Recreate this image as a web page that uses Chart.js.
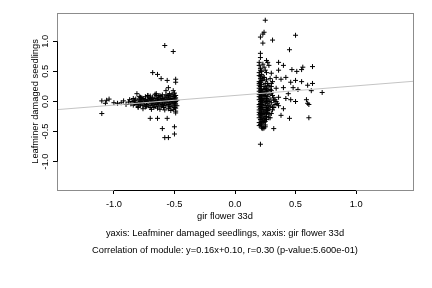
<!DOCTYPE html>
<html><head><meta charset="utf-8">
<script src="https://cdn.jsdelivr.net/npm/chart.js@4/dist/chart.umd.min.js"></script>
<style>html,body{margin:0;padding:0;background:#fff}</style>
</head><body>
<canvas id="c" width="432" height="288"></canvas>
<script>
const xTicks = [-1.0, -0.5, 0.0, 0.5, 1.0];
const yTicks = [-1.0, -0.5, 0.0, 0.5, 1.0];
const xLimits = [-1.47, 1.47];
const yLimits = [-1.47, 1.47];
const fitSlope = 0.16;
const fitIntercept = 0.10;
const xTitle = "gir flower 33d";
const yTitle = "Leafminer damaged seedlings";
const caption1 = "yaxis: Leafminer damaged seedlings, xaxis: gir flower 33d";
const caption2 = "Correlation of module: y=0.16x+0.10, r=0.30 (p-value:5.600e-01)";

// [gir flower 33d, leafminer damaged seedlings]
const observations = [
[-1.10,0.01],[-1.10,-0.20],[-1.06,0.02],[-1.04,0.04],[-1.07,-0.03],[-1.00,-0.02],[-0.97,-0.03],[-0.94,-0.02],[-0.92,0.01],[-0.90,-0.05],[-0.88,-0.01],[-0.87,0.03],
[-0.86,-0.04],[-0.85,0.00],[-0.84,-0.06],[-0.83,0.02],[-0.82,-0.02],[-0.81,0.13],[-0.81,-0.05],[-0.80,0.01],[-0.80,-0.08],[-0.79,0.04],[-0.79,-0.03],[-0.78,0.00],[-0.78,-0.06],[-0.77,0.03],[-0.77,-0.02],[-0.76,0.05],[-0.76,-0.07],[-0.75,0.01],[-0.75,-0.04],[-0.74,0.03],[-0.74,-0.09],[-0.73,0.00],[-0.73,-0.05],[-0.72,0.10],[-0.72,0.04],[-0.72,-0.02],[-0.71,0.02],[-0.71,-0.07],[-0.70,0.05],[-0.70,-0.01],[-0.70,-0.10],[-0.69,0.03],[-0.69,-0.04],[-0.68,0.07],[-0.68,0.00],[-0.68,-0.06],[-0.67,0.02],[-0.67,-0.03],[-0.66,0.05],[-0.66,-0.08],[-0.65,0.10],[-0.65,0.01],[-0.65,-0.05],[-0.64,0.04],[-0.64,-0.02],[-0.64,-0.11],[-0.63,0.06],[-0.63,0.00],[-0.63,-0.06],[-0.62,0.03],[-0.62,-0.03],[-0.61,0.08],[-0.61,0.01],[-0.61,-0.08],[-0.60,0.05],[-0.60,-0.01],[-0.60,-0.05],[-0.59,0.02],[-0.59,-0.10],[-0.58,0.07],[-0.58,0.00],[-0.58,-0.04],[-0.57,0.04],[-0.57,-0.07],[-0.56,0.09],[-0.56,0.02],[-0.56,-0.02],[-0.55,0.06],[-0.55,-0.05],[-0.55,-0.12],[-0.54,0.03],[-0.54,-0.01],[-0.53,0.08],[-0.53,0.00],[-0.53,-0.08],[-0.52,0.05],[-0.52,-0.03],[-0.52,0.12],[-0.51,0.02],[-0.51,-0.06],[-0.51,0.09],[-0.50,0.04],[-0.50,-0.02],[-0.50,-0.10],[-0.49,0.06],[-0.49,0.00],[-0.49,-0.04],[-0.49,0.10],[-0.48,0.02],[-0.48,-0.07],[-0.84,0.05],[-0.78,0.07],[-0.74,0.08],[-0.66,0.12],[-0.62,0.10],[-0.57,0.11],[-0.54,0.13],[-0.50,0.14],[-0.80,-0.10],[-0.76,-0.12],[-0.69,-0.13],[-0.62,-0.13],[-0.58,-0.14],[-0.53,-0.15],[-0.49,-0.16],
[-0.83,-0.03],[-0.79,0.08],[-0.75,-0.01],[-0.71,0.07],[-0.67,-0.10],[-0.63,0.09],[-0.59,-0.07],[-0.57,0.01],[-0.54,-0.09],[-0.52,0.01],[-0.50,0.08],[-0.49,-0.11],[-0.51,-0.13],[-0.55,0.10],[-0.60,0.11],[-0.66,-0.01],[-0.70,0.09],[-0.73,-0.08],[-0.77,0.06],[-0.82,0.04],
[-0.58,0.93],[-0.51,0.83],[-0.68,0.48],[-0.64,0.45],[-0.61,0.38],[-0.56,0.35],[-0.49,0.37],[-0.49,0.32],[-0.55,0.23],[-0.57,0.18],[-0.51,0.18],[-0.72,0.10],[-0.65,0.13],[-0.70,-0.28],[-0.64,-0.28],[-0.56,-0.28],[-0.49,-0.19],[-0.60,-0.45],[-0.50,-0.42],[-0.58,-0.60],[-0.55,-0.60],[-0.50,-0.54],
[0.20,0.60],[0.21,0.55],[0.20,0.48],[0.22,0.45],[0.21,0.38],[0.23,0.35],[0.20,0.33],[0.22,0.28],[0.24,0.25],[0.20,0.22],[0.21,0.19],[0.23,0.17],[0.25,0.14],[0.20,0.12],[0.22,0.10],[0.24,0.08],[0.21,0.06],[0.26,0.05],[0.20,0.03],[0.23,0.01],[0.25,-0.01],[0.21,-0.03],[0.22,-0.05],[0.24,-0.07],[0.20,-0.09],[0.26,-0.10],[0.21,-0.12],[0.23,-0.14],[0.25,-0.16],[0.20,-0.18],[0.22,-0.20],[0.24,-0.22],[0.21,-0.24],[0.26,-0.25],[0.20,-0.27],[0.23,-0.29],[0.22,-0.33],[0.24,-0.35],[0.21,-0.38],[0.25,-0.39],[0.22,-0.41],[0.24,-0.44],[0.23,-0.45],[0.21,0.42],[0.24,0.40],[0.26,0.36],[0.27,0.30],[0.28,0.26],[0.26,0.22],[0.27,0.18],[0.28,0.12],[0.27,0.08],[0.29,0.04],[0.28,0.00],[0.27,-0.04],[0.29,-0.08],[0.28,-0.13],[0.27,-0.18],[0.28,-0.22],[0.26,-0.30],[0.25,-0.33],[0.23,0.62],[0.25,0.52],[0.22,0.15],[0.24,0.20],[0.22,-0.10],[0.25,0.30],[0.23,0.05],[0.21,0.25],[0.24,-0.18],[0.26,0.00],[0.22,0.35],[0.20,-0.35],[0.29,0.20],[0.30,0.14],[0.31,0.10],[0.30,-0.02],[0.32,0.06],[0.33,-0.05],[0.31,-0.14],[0.34,0.00],[0.32,-0.10],[0.35,-0.03],[0.33,0.03],[0.30,0.30],[0.29,0.38],[0.31,0.33],[0.30,-0.20],[0.29,-0.27],[0.30,0.25],
[0.20,0.08],[0.21,0.14],[0.22,0.21],[0.20,0.27],[0.21,0.32],[0.23,0.39],[0.22,0.50],[0.20,-0.05],[0.21,-0.08],[0.23,-0.10],[0.20,-0.14],[0.22,-0.16],[0.21,-0.20],[0.23,-0.22],[0.20,-0.22],[0.22,-0.26],[0.24,-0.28],[0.21,-0.30],[0.23,-0.33],[0.20,-0.40],[0.22,-0.44],[0.25,-0.06],[0.24,0.03],[0.25,0.10],[0.26,0.17],[0.25,0.22],[0.24,0.12],[0.26,-0.20],[0.27,-0.12],[0.25,-0.26],[0.28,-0.07],[0.27,0.02],[0.22,0.02],[0.21,0.00],[0.23,-0.02],[0.20,0.17],[0.22,0.05],[0.24,-0.13],
[0.25,1.35],[0.24,1.15],[0.23,1.12],[0.21,1.07],[0.31,1.02],[0.50,1.10],[0.23,0.97],[0.45,0.86],[0.21,0.80],[0.21,0.73],[0.26,0.68],[0.27,0.65],[0.20,0.65],[0.36,0.65],[0.28,0.60],[0.40,0.60],[0.24,0.57],[0.56,0.57],[0.64,0.58],[0.47,0.53],[0.51,0.50],[0.55,0.53],[0.36,0.52],[0.21,0.52],[0.26,0.48],[0.30,0.47],[0.20,0.43],[0.24,0.40],[0.34,0.40],[0.42,0.40],[0.38,0.37],[0.50,0.35],[0.46,0.32],[0.55,0.33],[0.64,0.30],[0.60,0.27],[0.20,0.30],[0.27,0.27],[0.40,0.23],[0.34,0.22],[0.48,0.23],[0.52,0.20],[0.63,0.18],[0.72,0.15],[0.30,0.18],[0.23,0.15],[0.44,0.13],[0.36,0.07],[0.46,0.03],[0.42,0.05],[0.59,0.03],[0.60,-0.03],[0.61,-0.05],[0.50,0.00],[0.32,0.02],[0.36,-0.07],[0.31,-0.10],[0.40,-0.12],[0.27,-0.15],[0.38,-0.23],[0.45,-0.28],[0.61,-0.27],[0.28,-0.27],[0.24,-0.32],[0.22,-0.37],[0.23,-0.43],[0.25,-0.42],[0.32,-0.45],[0.21,-0.71]
];

const fitX = xLimits;
const fitLine = fitX.map(x => ({x: x, y: fitSlope * x + fitIntercept}));
const scatterData = observations.map(p => ({x: p[0], y: p[1]}));

const FONT = '"Liberation Sans", Arial, Helvetica, sans-serif';
const FSIZE = 9.3;

const framePlugin = {
  id: 'frame',
  afterDraw(chart) {
    const ctx = chart.ctx;
    const a = chart.chartArea;
    const xs = chart.scales.x, ys = chart.scales.y;
    ctx.save();
    ctx.lineWidth = 1;
    ctx.strokeStyle = '#8c8c8c';
    ctx.strokeRect(Math.round(a.left) + 0.5, Math.round(a.top) + 0.5, Math.round(a.right - a.left), Math.round(a.bottom - a.top));
    ctx.strokeStyle = '#000';
    ctx.beginPath();
    const by = Math.round(a.bottom) + 0.5;
    ctx.moveTo(xs.getPixelForValue(xTicks[0]), by);
    ctx.lineTo(xs.getPixelForValue(xTicks[xTicks.length - 1]), by);
    const lx = Math.round(a.left) + 0.5;
    ctx.moveTo(lx, ys.getPixelForValue(yTicks[0]));
    ctx.lineTo(lx, ys.getPixelForValue(yTicks[yTicks.length - 1]));
    ctx.stroke();

    ctx.fillStyle = '#000';
    ctx.font = FSIZE + 'px ' + FONT;
    ctx.textAlign = 'center';
    ctx.textBaseline = 'middle';
    const cx = 225;
    ctx.fillText(xTitle, cx, 216);
    ctx.fillText(caption1, cx, 233);
    ctx.fillText(caption2, cx, 250);
    ctx.translate(35, (a.top + a.bottom) / 2);
    ctx.rotate(-Math.PI / 2);
    ctx.fillText(yTitle, 0, 0);
    ctx.restore();
  }
};

new Chart(document.getElementById('c'), {
  type: 'scatter',
  data: {
    datasets: [
      {
        type: 'line',
        data: fitLine,
        borderColor: '#c4c4c4',
        borderWidth: 1,
        pointRadius: 0,
        fill: false,
        order: 0
      },
      {
        data: scatterData,
        pointStyle: 'cross',
        radius: 2.5,
        borderColor: '#000',
        backgroundColor: '#000',
        borderWidth: 1,
        order: 1
      }
    ]
  },
  options: {
    responsive: false,
    animation: false,
    devicePixelRatio: 1,
    layout: { padding: { top: 13, right: 19, left: 0, bottom: 0 } },
    plugins: { legend: { display: false }, tooltip: { enabled: false }, title: { display: false } },
    scales: {
      x: {
        type: 'linear',
        min: xLimits[0], max: xLimits[1],
        afterBuildTicks: s => { s.ticks = xTicks.map(v => ({ value: v })); },
        afterFit: s => { s.height = 98; },
        grid: { display: true, drawOnChartArea: false, drawTicks: true, tickLength: 4, color: '#000' },
        border: { display: false },
        ticks: { color: '#000', padding: 5, font: { family: FONT, size: FSIZE }, maxRotation: 0, callback: v => Number(v).toFixed(1) }
      },
      y: {
        type: 'linear',
        min: yLimits[0], max: yLimits[1],
        afterBuildTicks: s => { s.ticks = yTicks.map(v => ({ value: v })); },
        afterFit: s => { s.width = 57; },
        grid: { display: true, drawOnChartArea: false, drawTicks: true, tickLength: 4, color: '#000' },
        border: { display: false },
        ticks: { color: '#000', padding: 0, crossAlign: 'center', minRotation: 90, maxRotation: 90, font: { family: FONT, size: FSIZE }, callback: v => Number(v).toFixed(1) }
      }
    }
  },
  plugins: [framePlugin]
});
</script>
</body></html>
